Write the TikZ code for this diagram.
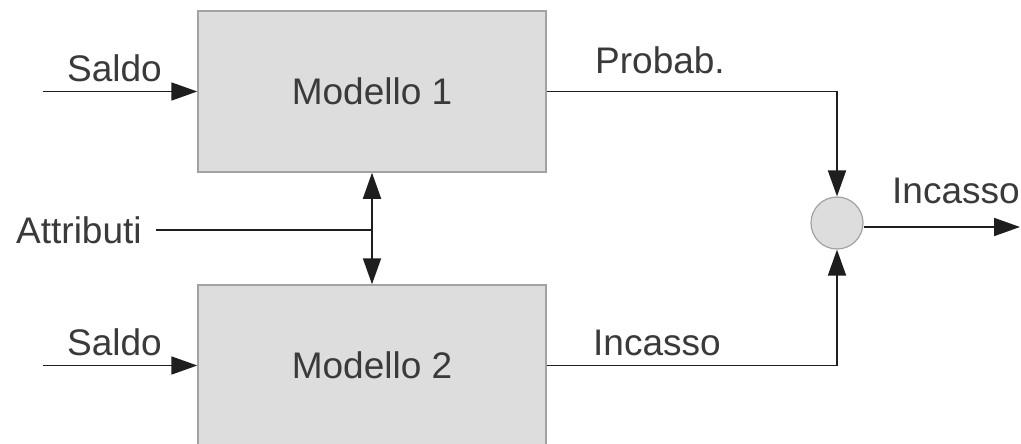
\documentclass[tikz,border=0pt]{standalone}
\usepackage{fontspec}
\setmainfont{Liberation Sans}
\usetikzlibrary{arrows.meta}
\definecolor{boxfill}{HTML}{DDDDDD}
\definecolor{boxline}{HTML}{A2A2A2}
\definecolor{txt}{HTML}{3A3A3A}
\definecolor{wire}{HTML}{1E1E1E}
\begin{document}
\begin{tikzpicture}[x=1pt,y=-1pt,
  font=\fontsize{37}{44}\selectfont,
  model/.style={rectangle,draw=boxline,fill=boxfill,line width=1.5pt,
    minimum width=348pt,minimum height=161pt,text=txt,inner sep=0pt},
  junction/.style={circle,draw=boxline,fill=boxfill,line width=1.2pt,
    minimum size=52pt,inner sep=0pt},
  lbl/.style={text=txt,inner sep=0pt},
  wireline/.style={draw=wire,line width=1.8pt},
  arr/.style={wireline,-{Triangle[length=26pt,width=18pt]}},
  dblarr/.style={wireline,{Triangle[length=26pt,width=18pt]}-{Triangle[length=26pt,width=18pt]}}]
  \useasboundingbox (0,0) rectangle (1021,444);
  \clip (0,0) rectangle (1021,444);
  \fill[white] (0,0) rectangle (1021,444);

  % the two models
  \node[model] (m1) at (372,91.5) {Modello 1};
  \node[model] (m2) at (372,365.5) {Modello 2};

  % combining node
  \node[junction] (c) at (837,223) {};

  % inputs on the left
  \coordinate (s1) at (43,91.5);
  \coordinate (s2) at (43,365.5);
  \draw[arr] (s1) -- (m1.west);
  \draw[arr] (s2) -- (m2.west);
  \node[lbl,anchor=base] at (114.5,82) {Saldo};
  \node[lbl,anchor=base] at (114.5,355) {Saldo};

  % shared attributes feeding both models
  \node[lbl,anchor=base west] (attr) at (16,243) {Attributi};
  \coordinate (a0) at (156,230);
  \coordinate (aj) at (372,230);
  \draw[wireline] (a0) -- (aj);
  \draw[dblarr] (m1.south) -- (m2.north);

  % model outputs into the junction
  \draw[arr] (m1.east) -| (c.north);
  \draw[arr] (m2.east) -| (c.south);
  \node[lbl,anchor=base west] at (595,74) {Probab.};
  \node[lbl,anchor=base west] at (593,355) {Incasso};

  % final output
  \coordinate (out) at (1020,227);
  \draw[arr] (c.east |- out) -- (out);
  \node[lbl,anchor=base west] at (892,203) {Incasso};
\end{tikzpicture}
\end{document}
